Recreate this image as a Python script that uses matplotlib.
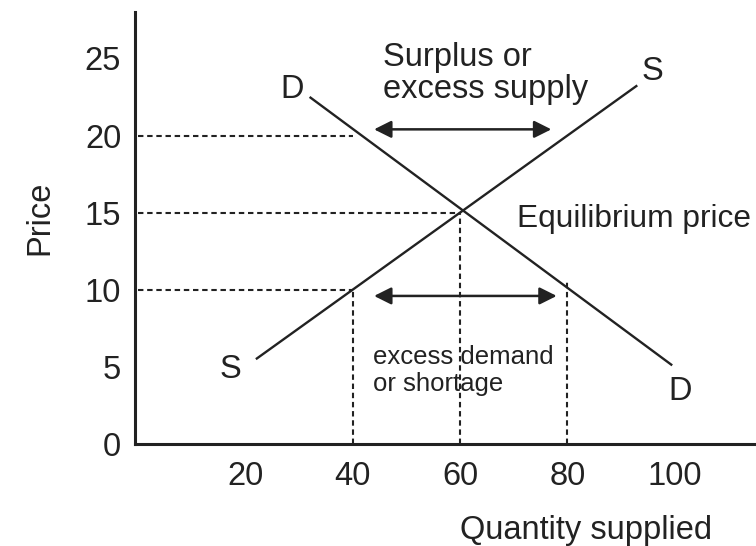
import matplotlib
matplotlib.use("Agg")
import matplotlib.pyplot as plt

plt.rcParams['font.family'] = ['Liberation Sans', 'DejaVu Sans']

# curve end points (quantity, price)
supply_q = [22, 93]
supply_p = [5.5, 23.25]
demand_q = [32, 99.5]
demand_p = [22.5, 5.1]

# guide levels
eq_q, eq_p = 60, 15
low_p, low_qs, low_qd = 10, 40, 80
high_p, high_qd = 20, 40

x_ticks = [20, 40, 60, 80, 100]
y_ticks = [0, 5, 10, 15, 20, 25]

ink = '#222222'
fs = 23.5

fig = plt.figure(figsize=(7.56, 5.46), dpi=100)
ax = fig.add_axes([0.1786, 0.1868, 0.8214, 0.791])

ax.plot(supply_q, supply_p, color=ink, lw=1.7, solid_capstyle='butt')
ax.plot(demand_q, demand_p, color=ink, lw=1.7, solid_capstyle='butt')

dash = dict(color=ink, lw=1.5, ls=(0, (2.6, 1.8)))
ax.plot([0, high_qd], [high_p, high_p], **dash)
ax.plot([0, eq_q], [eq_p, eq_p], **dash)
ax.plot([0, low_qs], [low_p, low_p], **dash)
ax.plot([low_qs, low_qs], [0, low_p], **dash)
ax.plot([eq_q, eq_q], [0, eq_p], **dash)
ax.plot([low_qd, low_qd], [0, low_p + 0.5], **dash)

arrow = dict(arrowstyle='<|-|>', color=ink, lw=1.8, mutation_scale=26,
             shrinkA=0, shrinkB=0)
ax.annotate('', xy=(77, 20.4), xytext=(44, 20.4), arrowprops=arrow)
ax.annotate('', xy=(78, 9.6), xytext=(44, 9.6), arrowprops=arrow)

ax.text(45.6, 24.0, 'Surplus or\nexcess supply', fontsize=fs, color=ink,
        ha='left', va='center', linespacing=1.05)
ax.text(70.6, 14.6, 'Equilibrium price', fontsize=22.8, color=ink,
        ha='left', va='center')
ax.text(95.9, 24.15, 'S', fontsize=fs, color=ink, ha='center', va='center')
ax.text(28.7, 23.0, 'D', fontsize=fs, color=ink, ha='center', va='center')
ax.text(17.2, 4.8, 'S', fontsize=fs, color=ink, ha='center', va='center')
ax.text(100.9, 3.4, 'D', fontsize=fs, color=ink, ha='center', va='center')
ax.text(43.8, 4.75, 'excess demand\nor shortage', fontsize=18.5, color=ink,
        ha='left', va='center', linespacing=1.15)

ax.set_xlim(-0.5, 115.1)
ax.set_ylim(0, 28)
ax.set_xticks(x_ticks)
ax.set_yticks(y_ticks)
ax.tick_params(length=0, labelsize=fs, colors=ink)
ax.tick_params(axis='x', pad=12)
ax.tick_params(axis='y', pad=10)

for side in ['top', 'right']:
    ax.spines[side].set_visible(False)
for side in ['left', 'bottom']:
    ax.spines[side].set_linewidth(2.2)
    ax.spines[side].set_color(ink)

fig.text(40 / 756, 1 - 218 / 546, 'Price', fontsize=fs, color=ink,
         rotation=90, ha='center', va='center')
fig.text(586 / 756, 1 - 531 / 546, 'Quantity supplied', fontsize=fs,
         color=ink, ha='center', va='center')

fig.savefig('out.png', dpi=100)
